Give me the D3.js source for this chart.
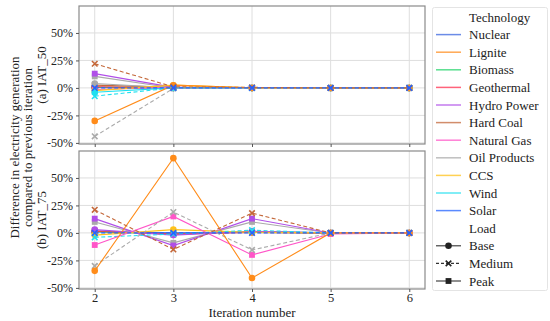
<!DOCTYPE html>
<html>
<head>
<meta charset="utf-8">
<script src="https://cdn.jsdelivr.net/npm/d3@7"></script>
<style>
  body { margin: 0; background: #fff; }
  text { font-family: "Liberation Serif", "DejaVu Serif", serif; fill: #222; }
</style>
</head>
<body>
<script>
var w = 550;
var h = 321;

// data (percent change vs previous iteration)
var iterations = [2, 3, 4, 5, 6];
var technologies = ["Nuclear", "Lignite", "Biomass", "Geothermal", "Hydro Power",
  "Hard Coal", "Natural Gas", "Oil Products", "CCS", "Wind", "Solar"];
var loads = ["Base", "Medium", "Peak"];
var yTicks = [-50, -25, 0, 25, 50];
var panelLabels = ["(a) IAT_50", "(b) IAT_75"];

var seriesIAT50 = [
  { tech: "Nuclear", load: "Base", values: [0.5, 0, 0, 0, 0] },
  { tech: "Biomass", load: "Base", values: [0.5, 0, 0, 0, 0] },
  { tech: "Geothermal", load: "Base", values: [1, 0, 0, 0, 0] },
  { tech: "Hard Coal", load: "Peak", values: [2.5, 0.5, 0, 0, 0] },
  { tech: "Oil Products", load: "Base", values: [4, 0, 0, 0, 0] },
  { tech: "Oil Products", load: "Peak", values: [10.5, 0, 0, 0, 0] },
  { tech: "Hydro Power", load: "Peak", values: [13, 0.5, 0, 0, 0] },
  { tech: "Natural Gas", load: "Peak", values: [-1.5, 0.5, 0, 0, 0] },
  { tech: "CCS", load: "Base", values: [-2.5, 2.5, 0, 0, 0] },
  { tech: "Wind", load: "Base", values: [-4, 0, 0, 0, 0] },
  { tech: "Wind", load: "Medium", values: [-7.5, 0, 0, 0, 0] },
  { tech: "Lignite", load: "Base", values: [-30, 2.5, 0, 0, 0] },
  { tech: "Oil Products", load: "Medium", values: [-44, -0.5, 0, 0, 0] },
  { tech: "Hard Coal", load: "Medium", values: [22, 1, 0.5, 0, 0] },
  { tech: "Solar", load: "Medium", values: [0, 0, 0, 0, 0] }
];

var seriesIAT75 = [
  { tech: "Nuclear", load: "Base", values: [1, 0, 0.5, 0, 0] },
  { tech: "Biomass", load: "Base", values: [1, -1, 1, 0, 0] },
  { tech: "Geothermal", load: "Base", values: [1.5, -1, 0.5, 0, 0] },
  { tech: "Hard Coal", load: "Peak", values: [2, -1.5, 1, 0, 0] },
  { tech: "Hydro Power", load: "Base", values: [3, -2, 1.5, 0, 0] },
  { tech: "Oil Products", load: "Peak", values: [10, -9, 10, 0, 0] },
  { tech: "Hydro Power", load: "Peak", values: [13, -11.5, 13, 0, 0] },
  { tech: "CCS", load: "Base", values: [-2, 3, 0.5, 0, 0] },
  { tech: "Wind", load: "Medium", values: [-4, -1, 2.5, 0, 0] },
  { tech: "Natural Gas", load: "Peak", values: [-11, 15, -20, -1, 0] },
  { tech: "Oil Products", load: "Medium", values: [-30, 19, -15.5, 0, 0] },
  { tech: "Lignite", load: "Base", values: [-34.5, 68, -41, 0, 0] },
  { tech: "Hard Coal", load: "Medium", values: [21, -15, 18, 0, 0] },
  { tech: "Solar", load: "Medium", values: [0, 0, 0, 0, 0] }
];

var colour = d3.scaleOrdinal()
  .domain(technologies)
  .range(["#3a66e0", "#ff8c1a", "#22d46a", "#ff2f4f", "#b04ee8",
    "#c4683a", "#ff55c8", "#aaaaaa", "#ffc21a", "#1fe0f0", "#2463ff"]);

var svg = d3.select("body")
  .append("svg")
  .attr("width", w)
  .attr("height", h);

var x = d3.scaleLinear().domain([1.8, 6.2]).range([79, 425]);

var panels = [
  { label: panelLabels[0], series: seriesIAT50, top: 6, bottom: 144 },
  { label: panelLabels[1], series: seriesIAT75, top: 151, bottom: 289 }
];

function markerPath(load) {
  var type = load == "Base" ? d3.symbolCircle : (load == "Medium" ? d3.symbolTimes : d3.symbolSquare);
  var size = load == "Medium" ? 22 : 34;
  return d3.symbol().type(type).size(size)();
}

panels.forEach(function(p, pi) {
  var y = d3.scaleLinear().domain([-51, 74.5]).range([p.bottom, p.top]);
  var g = svg.append("g");

  // panel background + grid
  g.append("rect")
    .attr("x", x.range()[0]).attr("y", p.top)
    .attr("width", x.range()[1] - x.range()[0]).attr("height", p.bottom - p.top)
    .attr("fill", "#fff");
  g.selectAll(".gy").data(yTicks).enter().append("line")
    .attr("x1", x.range()[0]).attr("x2", x.range()[1])
    .attr("y1", function(d) { return y(d); }).attr("y2", function(d) { return y(d); })
    .attr("stroke", "#dedede").attr("stroke-width", 1);
  g.selectAll(".gx").data(iterations).enter().append("line")
    .attr("y1", p.top).attr("y2", p.bottom)
    .attr("x1", function(d) { return x(d); }).attr("x2", function(d) { return x(d); })
    .attr("stroke", "#dedede").attr("stroke-width", 1);

  // lines
  var line = d3.line()
    .x(function(d, i) { return x(iterations[i]); })
    .y(function(d) { return y(d); });

  var sg = g.selectAll(".series").data(p.series).enter().append("g");
  sg.append("path")
    .attr("d", function(d) { return line(d.values); })
    .attr("fill", "none")
    .attr("stroke", function(d) { return colour(d.tech); })
    .attr("stroke-width", 1.1)
    .attr("stroke-dasharray", function(d) { return d.load == "Medium" ? "4,2.5" : null; });
  sg.selectAll("path.mk")
    .data(function(d) { return d.values.map(function(v, i) { return { v: v, i: i, s: d }; }); })
    .enter().append("path")
    .attr("class", "mk")
    .attr("transform", function(d) { return "translate(" + x(iterations[d.i]) + "," + y(d.v) + ")"; })
    .attr("d", function(d) { return markerPath(d.s.load); })
    .attr("fill", function(d) { return colour(d.s.tech); })
    .attr("stroke", function(d) { return d.s.load == "Medium" ? colour(d.s.tech) : "none"; })
    .attr("stroke-width", 1.6);

  // border
  g.append("rect")
    .attr("x", x.range()[0]).attr("y", p.top)
    .attr("width", x.range()[1] - x.range()[0]).attr("height", p.bottom - p.top)
    .attr("fill", "none").attr("stroke", "#8a8a8a").attr("stroke-width", 1.2);

  // y axis
  var yAxis = d3.axisLeft(y).tickValues(yTicks).tickSize(3).tickPadding(3)
    .tickFormat(function(d) { return d + "%"; });
  var ya = g.append("g").attr("transform", "translate(" + x.range()[0] + ",0)").call(yAxis);
  ya.attr("font-family", null);
  ya.select(".domain").remove();
  ya.selectAll("line").attr("stroke", "#555");
  ya.selectAll("text").style("font-size", "12px").attr("fill", "#333");

  // x axis
  var xAxis = d3.axisBottom(x).tickValues(iterations).tickSize(3).tickPadding(1)
    .tickFormat(pi == 1 ? d3.format("d") : "");
  var xa = g.append("g").attr("transform", "translate(0," + p.bottom + ")").call(xAxis);
  xa.attr("font-family", null);
  xa.select(".domain").remove();
  xa.selectAll("line").attr("stroke", "#555");
  xa.selectAll("text").style("font-size", "12.5px").attr("fill", "#222");

  // strip label on the left
  var cy = (p.top + p.bottom) / 2;
  svg.append("text")
    .attr("transform", "translate(46," + cy + ") rotate(-90)")
    .attr("text-anchor", "middle")
    .style("font-size", "13px")
    .text(p.label);
});

// y title
var ymid = (6 + 289) / 2;
svg.append("text")
  .attr("transform", "translate(19," + ymid + ") rotate(-90)")
  .attr("text-anchor", "middle").style("font-size", "13px")
  .text("Difference in electricity generation");
svg.append("text")
  .attr("transform", "translate(32," + ymid + ") rotate(-90)")
  .attr("text-anchor", "middle").style("font-size", "13px")
  .text("compared to previous iteration");

// x title
svg.append("text")
  .attr("x", 252).attr("y", 317)
  .attr("text-anchor", "middle").style("font-size", "13px")
  .text("Iteration number");

// legend
var lg = svg.append("g");
lg.append("rect")
  .attr("x", 432.5).attr("y", 7.5).attr("width", 115).attr("height", 283)
  .attr("rx", 2).attr("fill", "#fff").attr("stroke", "#e4e4e4");
var step = 17.6;
var ly0 = 17;
lg.append("text").attr("x", 469).attr("y", ly0).attr("dy", "0.35em")
  .style("font-size", "13px").text("Technology");
lg.selectAll(".lt").data(technologies).enter().append("g")
  .each(function(d, i) {
    var yy = ly0 + (i + 1) * step;
    var s = d3.select(this);
    s.append("line").attr("x1", 436).attr("x2", 461).attr("y1", yy).attr("y2", yy)
      .attr("stroke", colour(d)).attr("stroke-width", 1.5).attr("opacity", 0.75);
    s.append("text").attr("x", 469).attr("y", yy).attr("dy", "0.35em")
      .style("font-size", "13px").text(d);
  });
var loadY = ly0 + (technologies.length + 1) * step;
lg.append("text").attr("x", 469).attr("y", loadY).attr("dy", "0.35em")
  .style("font-size", "13px").text("Load");
lg.selectAll(".ll").data(loads).enter().append("g")
  .each(function(d, i) {
    var yy = loadY + (i + 1) * step;
    var s = d3.select(this);
    s.append("line").attr("x1", 436).attr("x2", 461).attr("y1", yy).attr("y2", yy)
      .attr("stroke", "#333").attr("stroke-width", 1.1)
      .attr("stroke-dasharray", d == "Medium" ? "3,2" : null);
    s.append("path").attr("transform", "translate(448.5," + yy + ")")
      .attr("d", markerPath(d)).attr("fill", "#222")
      .attr("stroke", d == "Medium" ? "#222" : "none").attr("stroke-width", 1.6);
    s.append("text").attr("x", 469).attr("y", yy).attr("dy", "0.35em")
      .style("font-size", "13px").text(d);
  });
</script>
</body>
</html>
